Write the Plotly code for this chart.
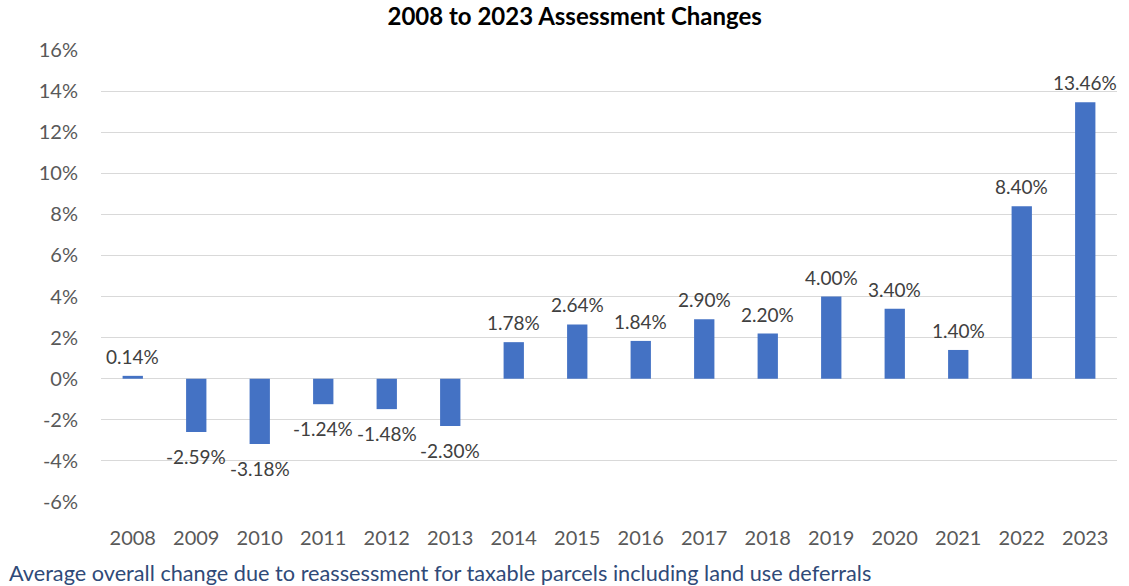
import plotly.graph_objects as go

years = ["2008", "2009", "2010", "2011", "2012", "2013", "2014", "2015",
         "2016", "2017", "2018", "2019", "2020", "2021", "2022", "2023"]
changes = [0.14, -2.59, -3.18, -1.24, -1.48, -2.30, 1.78, 2.64,
           1.84, 2.90, 2.20, 4.00, 3.40, 1.40, 8.40, 13.46]
labels = [f"{v:.2f}%" for v in changes]
y_ticks = [-6, -4, -2, 0, 2, 4, 6, 8, 10, 12, 14, 16]
y_tick_text = [f"{t}%" for t in y_ticks]

FONT = "Lato"

fig = go.Figure(go.Bar(
    x=years, y=changes,
    marker=dict(color="#4472C4", line=dict(width=0)),
    width=0.32, hoverinfo="x+y",
))

annotations = []
for i, (v, lab) in enumerate(zip(changes, labels)):
    # category axis: annotation x given as the category's index
    annotations.append(dict(
        x=i, y=v, text=lab, showarrow=False, xref="x", yref="y",
        yanchor="bottom" if v >= 0 else "top",
        yshift=6 if v >= 0 else -11,
        font=dict(family=FONT, size=19, color="#404040")))

annotations.append(dict(
    text="Average overall change due to reassessment for taxable parcels including land use deferrals",
    xref="paper", yref="paper", x=-0.093, y=-0.157, xanchor="left", yanchor="middle",
    showarrow=False, font=dict(family=FONT, size=21.7, color="#2F4A78")))

fig.update_layout(
    width=1129, height=586,
    margin=dict(l=101, r=12, t=50, b=84),
    paper_bgcolor="white", plot_bgcolor="white",
    showlegend=False,
    font=dict(family=FONT, color="#595959", size=16),
    title=dict(text="<b>2008 to 2023 Assessment Changes</b>",
               xref="container", x=0.509, xanchor="center", y=0.971, yanchor="middle",
               font=dict(family=FONT, size=24, color="#000000")),
    xaxis=dict(type="category", showgrid=False, showline=False, ticks="",
               range=[-0.5, len(years) - 0.5],
               ticklabelstandoff=22,
               tickfont=dict(family=FONT, size=20, color="#595959")),
    yaxis=dict(range=[-6, 16], tickvals=y_ticks, ticktext=y_tick_text,
               showgrid=True, gridcolor="#D9D9D9", gridwidth=1,
               zeroline=True, zerolinecolor="#D9D9D9", zerolinewidth=1,
               showline=False, ticks="", ticklabelstandoff=22,
               tickfont=dict(family=FONT, size=20, color="#595959")),
    annotations=annotations,
)

fig.write_html("out.html", config={"displayModeBar": False},
               post_script="document.body.style.margin='0px';")
